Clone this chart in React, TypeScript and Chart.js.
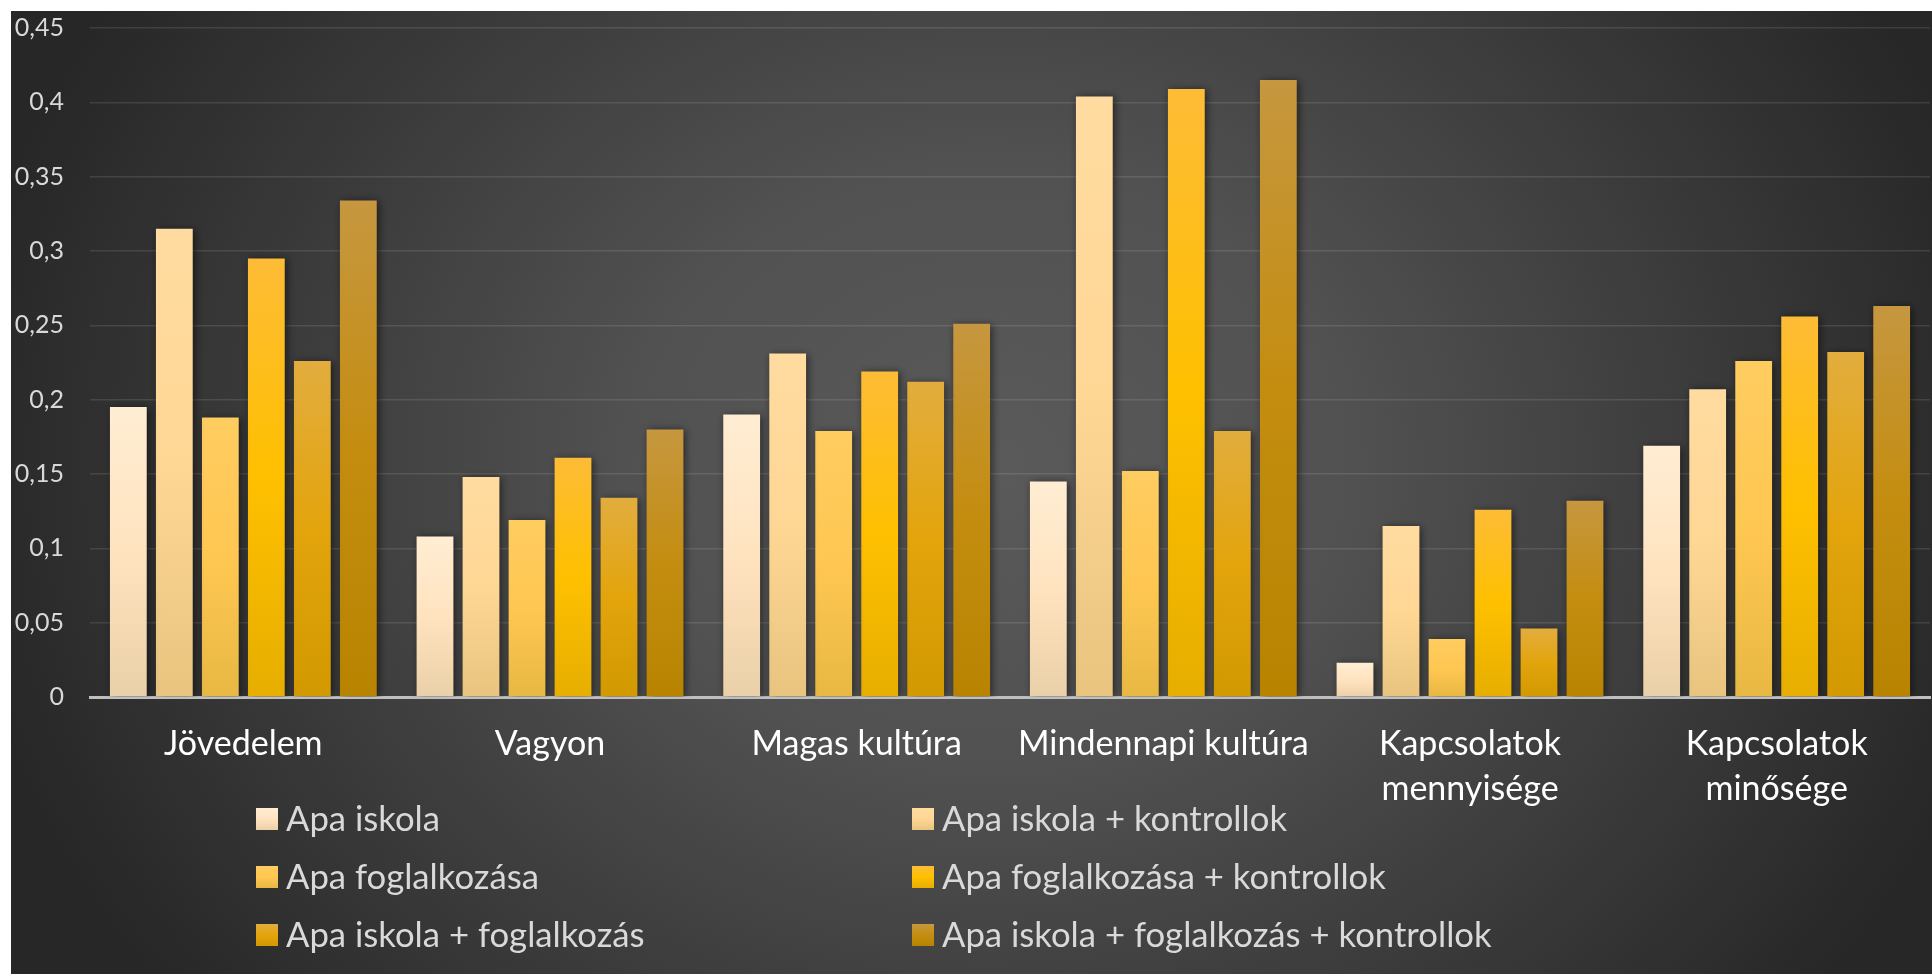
import React, { useEffect, useRef } from 'react';
import { Chart, registerables } from 'chart.js';

Chart.register(...registerables);

// ---- data ----
const categories: string[][] = [
  ['Jövedelem'],
  ['Vagyon'],
  ['Magas kultúra'],
  ['Mindennapi kultúra'],
  ['Kapcsolatok', 'mennyisége'],
  ['Kapcsolatok', 'minősége'],
];

const seriesNames: string[] = [
  'Apa iskola',
  'Apa iskola + kontrollok',
  'Apa foglalkozása',
  'Apa foglalkozása + kontrollok',
  'Apa iskola + foglalkozás',
  'Apa iskola + foglalkozás + kontrollok',
];

const apaIskola = [0.195, 0.108, 0.19, 0.145, 0.023, 0.169];
const apaIskolaKontroll = [0.315, 0.148, 0.231, 0.404, 0.115, 0.207];
const apaFoglalkozasa = [0.188, 0.119, 0.179, 0.152, 0.039, 0.226];
const apaFoglalkozasaKontroll = [0.295, 0.161, 0.219, 0.409, 0.126, 0.256];
const apaIskolaFoglalkozas = [0.226, 0.134, 0.212, 0.179, 0.046, 0.232];
const apaIskolaFoglalkozasKontroll = [0.334, 0.18, 0.251, 0.415, 0.132, 0.263];

const seriesValues = [
  apaIskola,
  apaIskolaKontroll,
  apaFoglalkozasa,
  apaFoglalkozasaKontroll,
  apaIskolaFoglalkozas,
  apaIskolaFoglalkozasKontroll,
];

const yMin = 0;
const yMax = 0.45;
const yStep = 0.05;

// ---- styles ----
const gradientStops: string[][] = [
  ['#FFEDD3', '#FFE3BF', '#EAD0A8'],
  ['#FFDBA0', '#FFD795', '#E8C47F'],
  ['#FFCC60', '#FFC752', '#E7B843'],
  ['#FDBC36', '#FFC000', '#E6AE00'],
  ['#E2AD3E', '#E3A40C', '#D29900'],
  ['#C6973F', '#C48D10', '#B88400'],
];

const FONT = 'Lato, "Open Sans", sans-serif';
const CANVAS_W = 1921;
const CANVAS_H = 963;

function makeGradient(ctx: CanvasRenderingContext2D, stops: string[], top: number, bottom: number) {
  if (!isFinite(top) || !isFinite(bottom)) return stops[1];
  const g = ctx.createLinearGradient(0, top, 0, Math.abs(bottom - top) < 1 ? top + 1 : bottom);
  g.addColorStop(0, stops[0]);
  g.addColorStop(0.5, stops[1]);
  g.addColorStop(1, stops[2]);
  return g;
}

const bgPlugin = {
  id: 'bgPlugin',
  beforeDraw(chart: any) {
    const { ctx, width, height } = chart;
    ctx.save();
    const cx = width * 0.51;
    const cy = height * 0.47;
    const rx = width * 0.54;
    const ry = height * 0.9;
    ctx.translate(cx, cy);
    ctx.scale(1, ry / rx);
    const g = ctx.createRadialGradient(0, 0, 0, 0, 0, rx);
    g.addColorStop(0, '#5a5a5a');
    g.addColorStop(0.35, '#515151');
    g.addColorStop(1, '#272727');
    ctx.fillStyle = g;
    ctx.fillRect(-cx, (-cy * rx) / ry, width, (height * rx) / ry);
    ctx.restore();
  },
};

const shadowPlugin = {
  id: 'shadowPlugin',
  beforeDatasetsDraw(chart: any) {
    const c = chart.ctx;
    c.save();
    c.shadowColor = 'rgba(0,0,0,0.55)';
    c.shadowBlur = 8;
    c.shadowOffsetX = 2;
    c.shadowOffsetY = 1;
  },
  afterDatasetsDraw(chart: any) {
    chart.ctx.restore();
  },
};

const legendPlugin = {
  id: 'gridLegend',
  afterDraw(chart: any) {
    const ctx = chart.ctx as CanvasRenderingContext2D;
    const colX = [245, 901];
    const rowY0 = 808;
    const rowDY = 58;
    const box = 22;
    ctx.save();
    ctx.font = `34.7px ${FONT}`;
    ctx.textBaseline = 'middle';
    ctx.textAlign = 'left';
    chart.data.datasets.forEach((ds: any, i: number) => {
      const col = i % 2;
      const row = Math.floor(i / 2);
      const x = colX[col];
      const y = rowY0 + row * rowDY;
      ctx.fillStyle = makeGradient(ctx, gradientStops[i], y - box / 2, y + box / 2);
      ctx.fillRect(x, y - box / 2, box, box);
      ctx.fillStyle = '#d9d9d9';
      ctx.fillText(ds.label, x + 30, y + 1);
    });
    ctx.restore();
  },
};

function fmtTick(v: number) {
  const s = Number(v.toFixed(2)).toString();
  return s.replace('.', ',');
}

export default function App() {
  const ref = useRef<HTMLCanvasElement | null>(null);

  useEffect(() => {
    document.body.style.overflow = 'hidden';
    const canvas = ref.current;
    if (!canvas) return;
    const chart = new Chart(canvas, {
      type: 'bar',
      data: {
        labels: categories,
        datasets: seriesNames.map((name, i) => ({
          label: name,
          data: seriesValues[i],
          backgroundColor: (c: any) => {
            const ch = c.chart;
            const y = ch.scales && ch.scales.y;
            if (!y || c.type !== 'data' || typeof c.raw !== 'number') return gradientStops[i][1];
            const top = y.getPixelForValue(c.raw);
            const bottom = y.getPixelForValue(0);
            return makeGradient(ch.ctx, gradientStops[i], top, bottom);
          },
          borderWidth: 0,
          categoryPercentage: 0.9,
          barPercentage: 0.8,
        })),
      },
      options: {
        animation: false,
        responsive: false,
        layout: { padding: { top: 17, right: 2, bottom: 147, left: 0 } },
        plugins: {
          legend: { display: false },
          tooltip: { enabled: false },
        },
        scales: {
          x: {
            z: 1,
            grid: { display: false, drawTicks: false },
            border: { display: true, color: '#bfbfbf', width: 3 },
            ticks: {
              color: '#ffffff',
              font: { family: FONT, size: 34, lineHeight: 1.32 },
              padding: 25,
              maxRotation: 0,
              autoSkip: false,
            },
            afterFit: (s: any) => {
              s.height = 130;
            },
          },
          y: {
            min: yMin,
            max: yMax,
            grid: { color: 'rgba(255,255,255,0.11)', lineWidth: 1.5, drawTicks: false },
            border: { display: false },
            ticks: {
              stepSize: yStep,
              color: '#d9d9d9',
              font: { family: FONT, size: 25 },
              padding: 26,
              callback: (v: any) => fmtTick(Number(v)),
            },
            afterFit: (s: any) => {
              s.width = 79;
              s.paddingTop = 0;
              s.paddingBottom = 0;
            },
          },
        },
      },
      plugins: [bgPlugin, shadowPlugin, legendPlugin],
    });
    return () => chart.destroy();
  }, []);

  return (
    <div style={{ position: 'absolute', left: 11, top: 11, width: CANVAS_W, height: CANVAS_H }}>
      <canvas ref={ref} width={CANVAS_W} height={CANVAS_H} style={{ width: CANVAS_W, height: CANVAS_H, display: 'block' }} />
    </div>
  );
}
